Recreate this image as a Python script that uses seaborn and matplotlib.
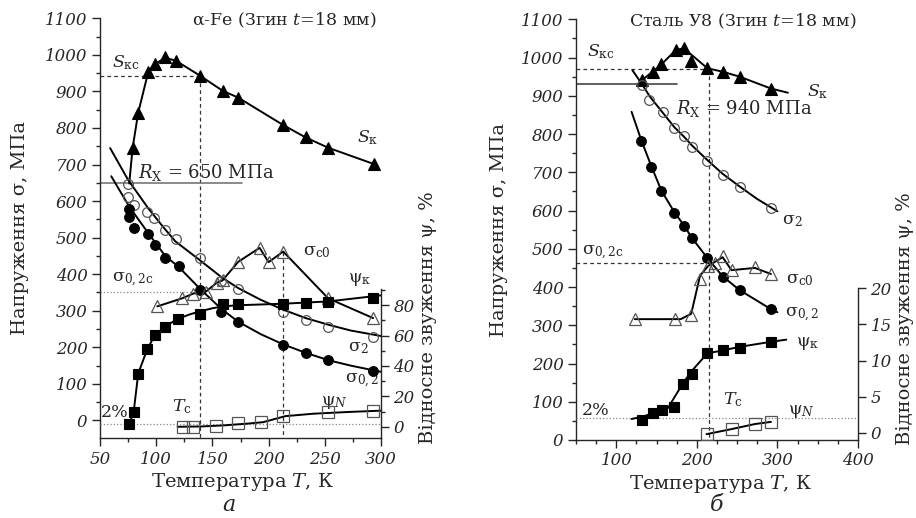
import numpy as np
import matplotlib
matplotlib.use("Agg")
import matplotlib.pyplot as plt
import seaborn as sns
from matplotlib.ticker import MultipleLocator

# ---- panel a: alpha-Fe ----
fe_sk_t = [76, 79, 84, 93, 99, 108, 118, 139, 159, 173, 213, 233, 253, 294]
fe_sk_v = [648, 745, 842, 954, 974, 993, 983, 943, 902, 883, 808, 774, 746, 701]

fe_s2_t = [75, 75, 80, 92, 98, 108, 118, 139, 158, 173, 213, 233, 253, 293]
fe_s2_v = [647, 612, 590, 569, 555, 521, 496, 444, 382, 359, 298, 275, 255, 228]
fe_s2_fit_t = [59, 75, 93, 106, 117, 139, 158, 173, 193, 213, 233, 253, 273, 300]
fe_s2_fit_v = [745, 658, 580, 530, 490, 438, 392, 362, 330, 303, 280, 262, 246, 231]

fe_s02_t = [76, 76, 80, 93, 99, 108, 120, 139, 158, 173, 213, 233, 253, 293]
fe_s02_v = [578, 556, 526, 510, 481, 443, 423, 358, 298, 268, 207, 184, 165, 136]
fe_s02_fit_t = [60, 76, 93, 108, 120, 139, 158, 173, 193, 213, 233, 253, 273, 300]
fe_s02_fit_v = [668, 585, 512, 450, 420, 360, 305, 270, 236, 208, 185, 165, 150, 133]

fe_sc0_t = [101, 123, 133, 144, 154, 159, 173, 192, 200, 213, 253, 293]
fe_sc0_v = [312, 334, 347, 352, 377, 383, 434, 472, 433, 462, 334, 280]

fe_psik_t = [76, 80, 84, 92, 99, 108, 119, 139, 159, 173, 213, 233, 253, 293]
fe_psik_v = [2, 10, 35, 51, 60.5, 66, 71, 74.3, 80.5, 80.5, 81, 81.8, 82.3, 85]
fe_psik_fit_t = [76, 80, 84, 92, 99, 108, 119, 130, 139, 150, 160, 173, 213, 253, 300]
fe_psik_fit_v = [2, 10, 35, 51, 60.5, 66, 71, 74, 76, 78, 79.3, 80, 81, 82.5, 86.5]

fe_psin_t = [124, 133, 153, 173, 193, 213, 253, 293]
fe_psin_v = [0, 0, 0.8, 2.3, 3, 7, 9.5, 10.4]
fe_psin_fit_t = [119, 140, 160, 180, 195, 205, 215, 240, 270, 300]
fe_psin_fit_v = [0, 0.2, 0.9, 2.0, 3.0, 5.0, 7.0, 8.6, 9.7, 10.6]

fe_skc = 943
fe_rx = 650
fe_s02c = 351
fe_tc = [139, 213]

# ---- panel b: steel U8 ----
st_sk_t = [132, 145, 156, 174, 184, 193, 213, 232, 253, 292]
st_sk_v = [941, 963, 982, 1020, 1024, 992, 972, 963, 950, 919]
st_sk_line_t = [129, 132, 145, 156, 174, 184, 213, 232, 253, 292, 313]
st_sk_line_v = [932, 941, 963, 982, 1020, 1024, 972, 963, 950, 919, 908]

st_s2_t = [132, 141, 158, 172, 184, 194, 213, 232, 253, 292]
st_s2_v = [928, 889, 858, 815, 795, 767, 730, 693, 662, 606]
st_s2_fit_t = [120, 132, 142, 158, 172, 184, 194, 213, 232, 253, 275, 300]
st_s2_fit_v = [967, 930, 897, 855, 818, 793, 770, 732, 696, 663, 630, 598]

st_s02_t = [131, 143.5, 156, 172, 184, 194, 213, 232, 253, 292]
st_s02_v = [782, 715, 651, 594, 560, 527, 475, 425, 392, 342]
st_s02_fit_t = [119, 131, 143.5, 156, 172, 184, 194, 213, 232, 253, 292, 300]
st_s02_fit_v = [858, 784, 716, 652, 596, 561, 528, 476, 428, 392, 342, 334]

st_sc0_t = [123, 173, 193, 204, 214, 223, 232, 243, 272, 292]
st_sc0_v = [316, 316, 326, 421, 455, 463, 480, 444, 453, 434]
st_sc0_line_t = [123, 180, 193, 204, 214, 232, 243, 272, 292]
st_sc0_line_v = [316, 316, 330, 430, 455, 478, 444, 450, 434]

st_psik_t = [132, 145, 157, 172, 183, 194, 213, 232, 253, 292]
st_psik_v = [1.7, 2.7, 3.2, 3.5, 6.7, 8.2, 11.0, 11.5, 11.8, 12.6]
st_psik_line_t = [119, 135, 150, 164, 183, 194, 213, 232, 253, 292, 311]
st_psik_line_v = [1.9, 2.3, 2.9, 3.4, 6.9, 8.6, 11.0, 11.4, 11.9, 12.6, 12.9]

st_psin_t = [212, 243, 272, 292]
st_psin_v = [-0.2, 0.5, 1.2, 1.5]

st_skc = 970
st_rx = 931
st_s02c = 462
st_tc = 215

# tick values
fe_xticks = [50, 100, 150, 200, 250, 300]
st_xticks = [100, 200, 300, 400]
sig_ticks = list(range(0, 1101, 100))
fe_psi_ticks = [0, 20, 40, 60, 80]
st_psi_ticks = [0, 5, 10, 15, 20]

sns.set_style("ticks")
plt.rcParams['font.family'] = ['DejaVu Serif']
plt.rcParams['mathtext.fontset'] = 'dejavuserif'
plt.rcParams['axes.linewidth'] = 1.0

fig = plt.figure(figsize=(9.16, 5.18), dpi=100)
ax = fig.add_axes([0.10917, 0.15444, 0.30677, 0.81023])
bx = fig.add_axes([0.62882, 0.15058, 0.30786, 0.81216])
ax2 = ax.twinx()
bx2 = bx.twinx()

LW = 1.4


def curve(a, x, y):
    sns.lineplot(x=x, y=y, ax=a, color='black', lw=LW, sort=False, estimator=None)


def dots(a, x, y, marker, filled, ms):
    if filled:
        sns.lineplot(x=x, y=y, ax=a, sort=False, estimator=None, linestyle='none',
                     marker=marker, markersize=ms, mfc='black', mec='black', mew=0.8,
                     color='black', zorder=4)
    else:
        sns.lineplot(x=x, y=y, ax=a, sort=False, estimator=None, linestyle='none',
                     marker=marker, markersize=ms, mfc='none', mec='#555555', mew=0.9,
                     color='#555555', zorder=4)


def set_ticks(a, axis, ticks, minor=None):
    labels = [str(t) for t in ticks]
    if axis == 'x':
        a.set_xticks(ticks, labels, fontstyle='italic')
        if minor is not None:
            a.xaxis.set_minor_locator(MultipleLocator(minor))
    else:
        a.set_yticks(ticks, labels, fontstyle='italic')
        if minor is not None:
            a.yaxis.set_minor_locator(MultipleLocator(minor))


# ---------- panel a ----------
ax.plot([50, fe_tc[0]], [fe_skc, fe_skc], ls='--', color='#333', lw=0.9, dashes=(3, 2.5))
ax.plot([fe_tc[0], fe_tc[0]], [fe_skc, -50], ls='--', color='#333', lw=0.9, dashes=(3, 2.5))
ax.plot([fe_tc[1], fe_tc[1]], [462, -50], ls='--', color='#333', lw=0.9, dashes=(3, 2.5))
ax.plot([50, 142], [fe_s02c, fe_s02c], ls=':', color='#888', lw=0.9)
ax.plot([50, 176], [fe_rx, fe_rx], color='#777', lw=1.2)

curve(ax, fe_sk_t, fe_sk_v)
dots(ax, fe_sk_t[1:], fe_sk_v[1:], '^', True, 8)
curve(ax, fe_s2_fit_t, fe_s2_fit_v)
dots(ax, fe_s2_t, fe_s2_v, 'o', False, 7)
curve(ax, fe_s02_fit_t, fe_s02_fit_v)
dots(ax, fe_s02_t, fe_s02_v, 'o', True, 7)
curve(ax, fe_sc0_t, fe_sc0_v)
dots(ax, fe_sc0_t, fe_sc0_v, '^', False, 8.5)

ax2.plot([50, 300], [2, 2], ls=':', color='#888', lw=0.9)
curve(ax2, fe_psik_fit_t, fe_psik_fit_v)
dots(ax2, fe_psik_t, fe_psik_v, 's', True, 7.5)
curve(ax2, fe_psin_fit_t, fe_psin_fit_v)
dots(ax2, fe_psin_t, fe_psin_v, 's', False, 8)

ax.set_xlim(50, 300)
ax.set_ylim(-48, 1100)
ax2.set_ylim(-7.4, 268.9)
set_ticks(ax, 'x', fe_xticks, 25)
set_ticks(ax, 'y', sig_ticks, 50)
set_ticks(ax2, 'y', fe_psi_ticks)
ax2.set_yticks(np.arange(0, 91, 10), minor=True)
ax2.spines['right'].set_bounds(-7.4, 91)

# ---------- panel b ----------
bx.plot([50, st_tc], [st_skc, st_skc], ls='--', color='#333', lw=0.9, dashes=(3, 2.5))
bx.plot([st_tc, st_tc], [st_skc, 0], ls='--', color='#333', lw=0.9, dashes=(3, 2.5))
bx.plot([50, st_tc], [st_s02c, st_s02c], ls='--', color='#333', lw=0.9, dashes=(3, 2.5))
bx.plot([50, 175], [st_rx, st_rx], color='#444', lw=1.2)

curve(bx, st_sk_line_t, st_sk_line_v)
dots(bx, st_sk_t, st_sk_v, '^', True, 8)
curve(bx, st_s2_fit_t, st_s2_fit_v)
dots(bx, st_s2_t, st_s2_v, 'o', False, 7)
curve(bx, st_s02_fit_t, st_s02_fit_v)
dots(bx, st_s02_t, st_s02_v, 'o', True, 7)
curve(bx, st_sc0_line_t, st_sc0_line_v)
dots(bx, st_sc0_t, st_sc0_v, '^', False, 8.5)

bx2.plot([50, 400], [2, 2], ls=':', color='#888', lw=0.9)
curve(bx2, st_psik_line_t, st_psik_line_v)
dots(bx2, st_psik_t, st_psik_v, 's', True, 7.5)
curve(bx2, st_psin_t, st_psin_v)
dots(bx2, st_psin_t, st_psin_v, 's', False, 8)

bx.set_xlim(50, 400)
bx.set_ylim(0, 1100)
bx2.set_ylim(-1.01, 57.3)
set_ticks(bx, 'x', st_xticks, 25)
set_ticks(bx, 'y', sig_ticks, 50)
set_ticks(bx2, 'y', st_psi_ticks)
bx2.spines['right'].set_bounds(-1.01, 20)

# ---------- common styling ----------
for a in (ax, bx):
    a.spines['top'].set_visible(False)
    a.spines['right'].set_visible(False)
    a.tick_params(which='major', direction='out', length=6, width=1, labelsize=12, pad=3)
    a.tick_params(which='minor', direction='out', length=3, width=1)
    a.set_ylabel('Напруження σ, МПа', fontsize=14)
    a.set_xlabel('Температура $T$, К', fontsize=14)
for a in (ax2, bx2):
    a.spines['top'].set_visible(False)
    a.spines['left'].set_visible(False)
    a.spines['bottom'].set_visible(False)
    a.tick_params(which='major', direction='out', length=6, width=1, labelsize=12, pad=3)
    a.tick_params(which='minor', direction='out', length=3, width=1)
    a.set_ylabel('Відносне звуження ψ, %', fontsize=14)

ax.yaxis.set_label_coords(-0.253, 0.5)
ax2.yaxis.set_label_coords(1.137, 0.287)
ax.xaxis.set_label_coords(0.509, -0.079)
bx.yaxis.set_label_coords(-0.241, 0.5)
bx2.yaxis.set_label_coords(1.135, 0.288)
bx.xaxis.set_label_coords(0.511, -0.078)

ax.text(0.655, 0.995, 'α-Fe (Згин $t$=18 мм)', transform=ax.transAxes,
        ha='center', va='center', fontsize=12.5)
bx.text(0.59, 0.995, 'Сталь У8 (Згин $t$=18 мм)', transform=bx.transAxes,
        ha='center', va='center', fontsize=12.5)
ax.text(0.459, -0.16, 'а', transform=ax.transAxes, ha='center', va='center',
        fontsize=16, fontstyle='italic')
bx.text(0.5, -0.155, 'б', transform=bx.transAxes, ha='center', va='center',
        fontsize=16, fontstyle='italic')

fs = 12.5
ax.text(61, 978, r'$S_{\mathrm{кс}}$', fontsize=fs, va='center')
ax.text(279, 773, r'$S_{\mathrm{к}}$', fontsize=fs, va='center')
ax.text(84, 677, r'$R_{\mathrm{X}}$ = 650 МПа', fontsize=13, va='center')
ax.text(231, 462, r'$\mathrm{σ}_{\mathrm{c0}}$', fontsize=fs, va='center')
ax.text(271, 385, r'$\mathrm{ψ}_{\mathrm{к}}$', fontsize=fs, va='center')
ax.text(61, 385, r'$\mathrm{σ}_{\mathrm{0,2c}}$', fontsize=fs, va='center')
ax.text(271, 199, r'$\mathrm{σ}_{2}$', fontsize=fs, va='center')
ax.text(268, 107, r'$\mathrm{σ}_{\mathrm{0,2}}$', fontsize=fs, va='center')
ax.text(247, 48, r'$\mathrm{ψ}_{N}$', fontsize=fs, va='center')
ax.text(114, 37, r'$T_{\mathrm{c}}$', fontsize=fs, va='center')
ax.text(50.5, 22, '2%', fontsize=fs, va='center')

bx.text(64, 1015, r'$S_{\mathrm{кс}}$', fontsize=fs, va='center')
bx.text(337, 910, r'$S_{\mathrm{к}}$', fontsize=fs, va='center')
bx.text(174, 867, r'$R_{\mathrm{X}}$ = 940 МПа', fontsize=13, va='center')
bx.text(306, 575, r'$\mathrm{σ}_{2}$', fontsize=fs, va='center')
bx.text(57, 488, r'$\mathrm{σ}_{\mathrm{0,2c}}$', fontsize=fs, va='center')
bx.text(311, 420, r'$\mathrm{σ}_{\mathrm{c0}}$', fontsize=fs, va='center')
bx.text(309, 327, r'$\mathrm{σ}_{\mathrm{0,2}}$', fontsize=fs, va='center')
bx.text(323, 253, r'$\mathrm{ψ}_{\mathrm{к}}$', fontsize=fs, va='center')
bx.text(232, 105, r'$T_{\mathrm{c}}$', fontsize=fs, va='center')
bx.text(313, 74, r'$\mathrm{ψ}_{N}$', fontsize=fs, va='center')
bx.text(57, 78, '2%', fontsize=fs, va='center')

fig.savefig('out.png', dpi=100)
